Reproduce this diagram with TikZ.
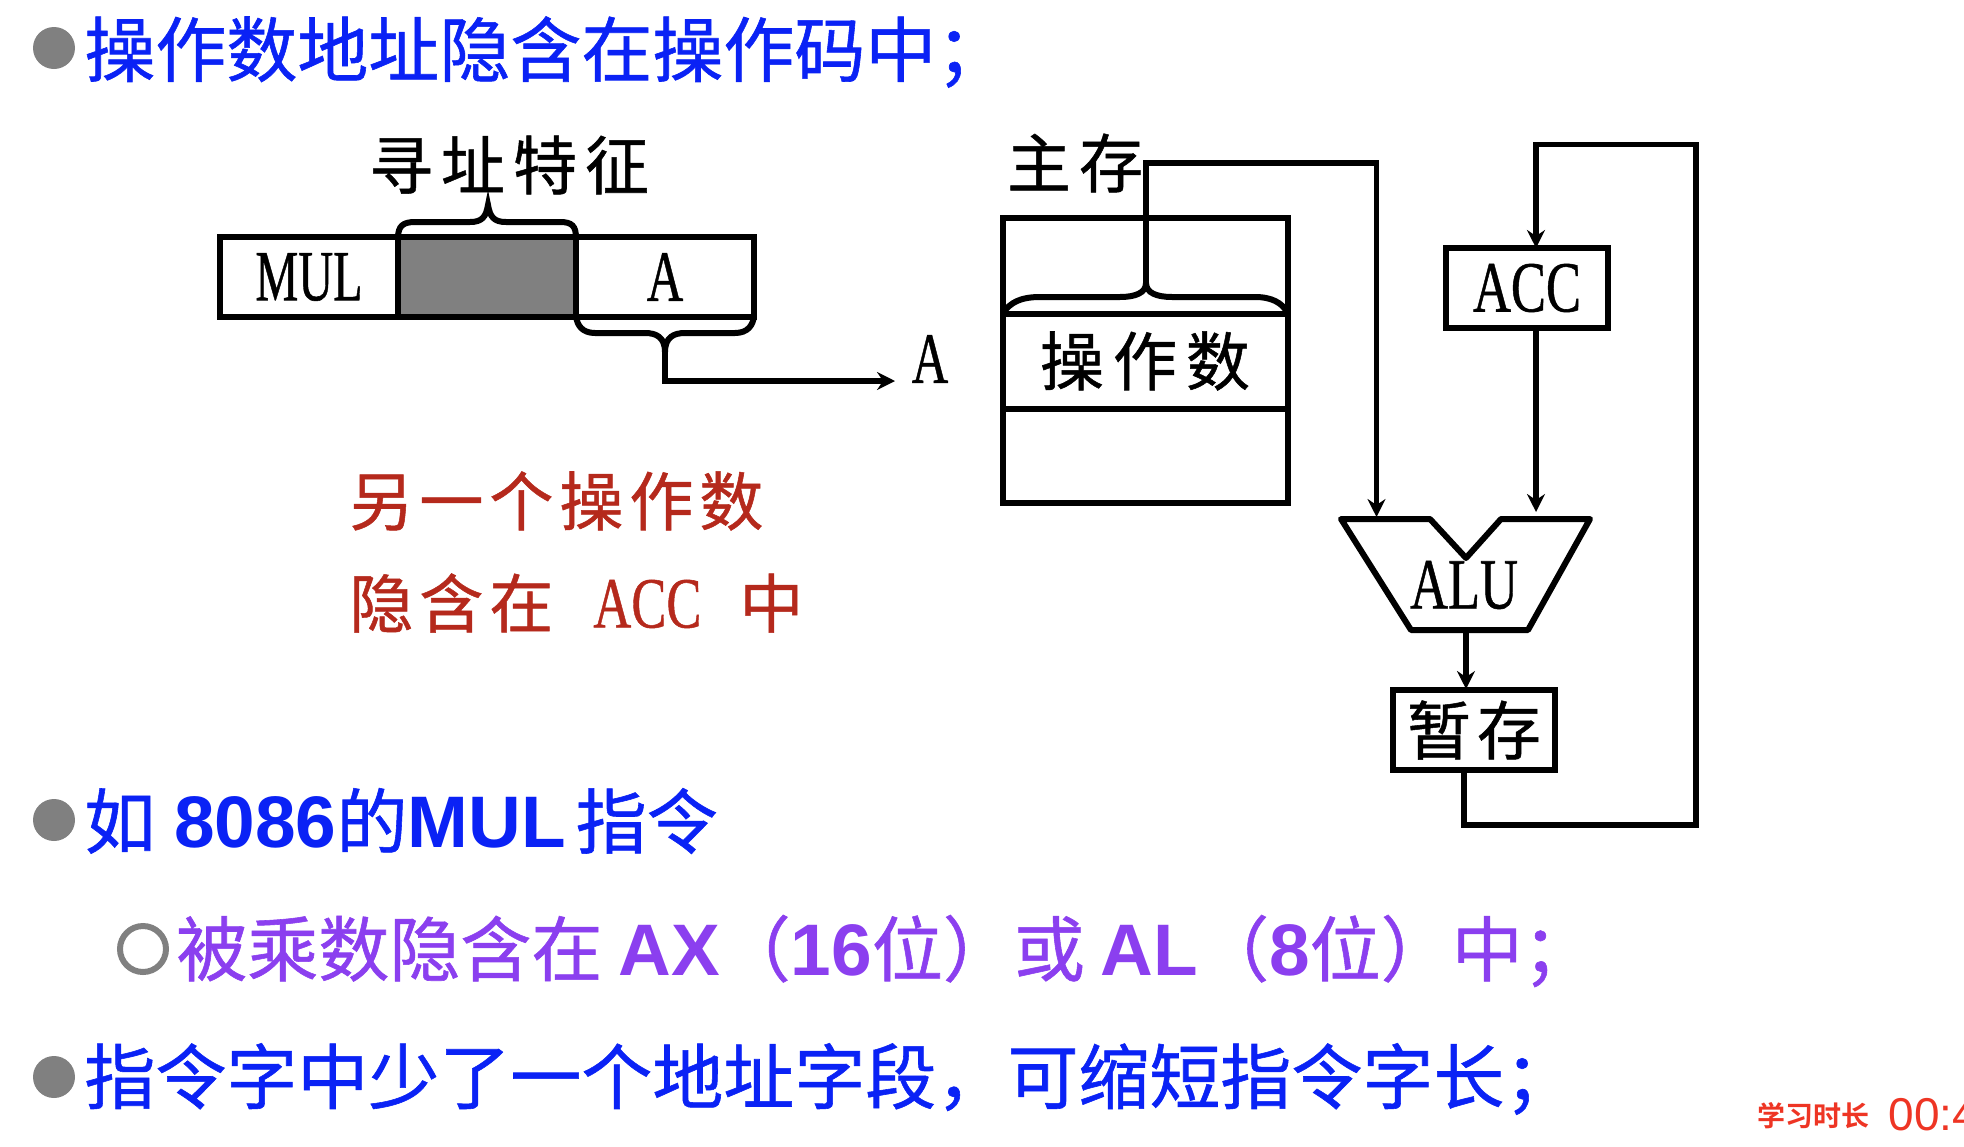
\documentclass[tikz,border=0pt]{standalone}
\usepackage{fontspec}
\setmainfont{Liberation Sans}
\newfontfamily\cjk[FakeBold=0.8]{Noto Sans CJK SC}
\newfontfamily\cjkb{Noto Sans CJK SC Bold}
\newfontfamily\lat[FakeBold=0.8]{Liberation Serif}
\definecolor{hblue}{HTML}{0A22F5}
\definecolor{hpurple}{HTML}{8B3FEF}
\definecolor{hred}{HTML}{B5291C}
\definecolor{tred}{HTML}{EE3524}
\definecolor{bgray}{HTML}{808080}
\newcommand{\narrow}[2][0.73]{\scalebox{#1}[1]{\fontsize{36}{36}\selectfont\lat #2}}
\newcommand{\lb}[1]{{\fontsize{36.5}{36.5}\selectfont\rmfamily\bfseries #1}}
\usetikzlibrary{arrows.meta}
\newlength{\pxu}\setlength{\pxu}{0.5pt}
\tikzset{
  line/.style={line width=3pt,black},
  box/.style={line width=3pt,draw=black},
  conn/.style={line width=2.8pt,black,-{Stealth[length=9pt,width=9pt,inset=3pt]}},
  lbl/.style={inner sep=0pt,font=\cjk\fontsize{32}{32}\selectfont},
  head/.style={inner sep=0pt,anchor=west,font=\cjk\fontsize{35.5}{35.5}\selectfont},
  dot/.style={circle,fill=bgray,minimum size=42\pxu,inner sep=0pt},
}
\begin{document}
\begin{tikzpicture}[x=0.5pt,y=-0.5pt]
\useasboundingbox (0,0) rectangle (1964,1146);
% heading bullets and text
\node[dot] (b1) at (54,48) {};
\node[head,text=hblue] (h1) at (84,52) {操作数地址隐含在操作码中；};
\node[dot] (b2) at (54,820) {};
\node[head,text=hblue] (h2) at (84,821) {如\hspace{9.4pt}\lb{8086}的\lb{MUL}\hspace{5pt}指令};
\node[circle,draw=bgray,line width=3pt,minimum size=46\pxu,inner sep=0pt] (b3) at (143,949) {};
\node[head,text=hpurple] (h3) at (176,951) {被乘数隐含在 \lb{AX}（\lb{16}位）或 \lb{AL}（\lb{8}位）中；};
\node[dot] (b4) at (54,1077) {};
\node[head,text=hblue] (h4) at (84,1079) {指令字中少了一个地址字段，可缩短指令字长；};
% instruction format
\node[box,minimum width=178\pxu,minimum height=80\pxu,inner sep=0pt] (mul) at (309,277) {\narrow[0.67]{MUL}};
\node[box,fill=bgray,minimum width=178\pxu,minimum height=80\pxu,inner sep=0pt] (feat) at (487,277) {};
\node[box,minimum width=178\pxu,minimum height=80\pxu,inner sep=0pt] (opa) at (665,277) {\narrow[0.7]{A}};
\coordinate (tipa) at (488,205);
\coordinate (tipb) at (665,352);
\draw[line] (398,238) .. controls (398,226) and (403,222) .. (415,222) -- (470,222) .. controls (482,222) and (486,217) .. (tipa)
  .. controls (490,217) and (494,222) .. (506,222) -- (560,222) .. controls (572,222) and (576,226) .. (576,238);
\draw[line] (576,316) .. controls (577,325) and (582,333) .. (595,333) -- (645,333) .. controls (656,333) and (665,337) .. (tipb)
  .. controls (665,337) and (674,333) .. (685,333) -- (735,333) .. controls (748,333) and (753,325) .. (754,316);
\node[inner sep=0pt] (adr) at (930,359) {\narrow[0.7]{A}};
\coordinate (bend1) at (665,381);
\coordinate (e) at (895,381);
\draw[conn] (tipb) -- (bend1) -- (e);
\node[lbl] (xz) at (509,165) {寻\hspace{4pt}址\hspace{4pt}特\hspace{4pt}征};
\node[lbl,text=hred,anchor=west] (r1) at (349,501) {另\hspace{3pt}一\hspace{3pt}个\hspace{3pt}操\hspace{3pt}作\hspace{3pt}数};
\node[lbl,text=hred,anchor=west] (r2) at (349,603) {隐\hspace{3pt}含\hspace{3pt}在\hspace{20pt}\narrow{ACC}\hspace{19pt}中};
% memory
\node[box,minimum width=285\pxu,minimum height=285\pxu,inner sep=0pt] (mem) at (1145,360) {};
\node[box,minimum width=285\pxu,minimum height=95\pxu,inner sep=0pt,font=\cjk\fontsize{32}{32}\selectfont] (opd) at (1145,361) {操\hspace{4.5pt}作\hspace{4.5pt}数};
\node[lbl] (zc) at (1075,163) {主\hspace{4pt}存};
\coordinate (ctip) at (1146,283);
\draw[line] (1004,312) .. controls (1010,303) and (1020,297) .. (1040,297) -- (1120,297) .. controls (1135,297) and (1146,293) .. (ctip)
  .. controls (1146,293) and (1157,297) .. (1172,297) -- (1255,297) .. controls (1272,297) and (1282,303) .. (1287,312);
% ALU
\coordinate (a1) at (1341,519);\coordinate (a2) at (1430,519);\coordinate (a3) at (1466,558);
\coordinate (a4) at (1501,519);\coordinate (a5) at (1590,519);\coordinate (a6) at (1528,630);\coordinate (a7) at (1411,630);
\draw[line,line join=round] (a1) -- (a2) -- (a3) -- (a4) -- (a5) -- (a6) -- (a7) -- cycle;
\node[inner sep=0pt] (alu) at (1464,585) {\narrow{ALU}};
\node[box,minimum width=162\pxu,minimum height=80\pxu,inner sep=0pt] (acc) at (1527,288) {\narrow{ACC}};
\node[box,minimum width=162\pxu,minimum height=80\pxu,inner sep=0pt,font=\cjk\fontsize{32}{32}\selectfont] (tmp) at (1474,730) {暂\hspace{3pt}存};
\coordinate (n1) at (1146,163);\coordinate (n2) at (1376.5,163);\coordinate (n3) at (1376.5,517);
\coordinate (t1) at (1536,144.5);\coordinate (t2) at (1696,144.5);\coordinate (t3) at (1696,825);\coordinate (t4) at (1464,825);
\coordinate (acctop) at (1536,248);\coordinate (accbot) at (1536,328);\coordinate (aluin) at (1536,512);
\coordinate (aluout) at (1466,630);\coordinate (tmpin) at (1466,689);\coordinate (tmpout) at (1464,770);
\draw[conn] (ctip) -- (n1) -- (n2) -- (n3);
\draw[conn] (accbot) -- (aluin);
\draw[conn] (aluout) -- (tmpin);
\draw[conn] (tmpout) -- (t4) -- (t3) -- (t2) -- (t1) -- (acctop);
% timer
\node[inner sep=0pt,anchor=west,text=tred,font=\cjkb\fontsize{14}{14}\selectfont] (tm) at (1757,1116) {学习时长};
\begin{scope}
\clip (1700,1080) rectangle (1964,1146);
\node[inner sep=0pt,anchor=west,text=tred,font=\fontsize{23}{23}\selectfont] (tv) at (1888,1115) {00:4};
\end{scope}
\end{tikzpicture}
\end{document}
